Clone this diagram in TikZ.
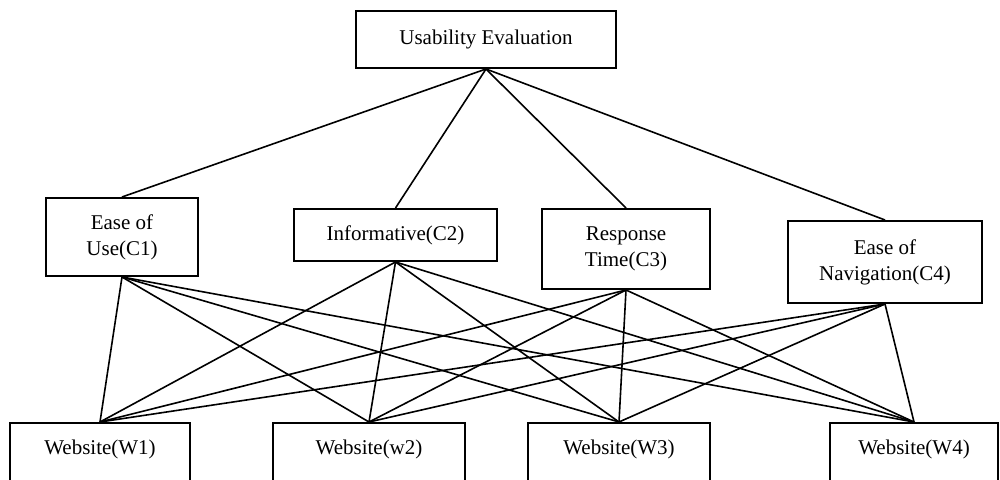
\documentclass[tikz,border=0pt]{standalone}
\usepackage{fontspec}
\setmainfont{Liberation Serif}
\begin{document}
\begin{tikzpicture}[x=0.5pt,y=-0.5pt,
    every node/.style={font=\fontsize{10.5}{13}\selectfont},
    crit/.style={draw,line width=1pt,align=center,inner sep=0pt},
    site/.style={draw,line width=1pt,anchor=north,inner xsep=0pt,
      inner ysep=5.5pt,text height=10pt,text depth=30pt},
    link/.style={line width=0.8pt}]
  \useasboundingbox (0,0) rectangle (1000,480);
  % goal and criteria
  \node[crit,minimum width=130pt,minimum height=28.5pt] (goal) at (486,39.5) {Usability Evaluation};
  \node[crit,minimum width=76pt,minimum height=39pt] (c1) at (122,237) {Ease of\\Use(C1)};
  \node[crit,minimum width=101.5pt,minimum height=26pt] (c2) at (395.5,235) {Informative(C2)};
  \node[crit,minimum width=84pt,minimum height=40pt] (c3) at (626,249) {Response\\Time(C3)};
  \node[crit,minimum width=97pt,minimum height=41pt] (c4) at (885,262) {Ease of\\Navigation(C4)};
  % alternatives
  \node[site,minimum width=90pt] (w1) at (100,422) {Website(W1)};
  \node[site,minimum width=96pt] (w2) at (369,422) {Website(w2)};
  \node[site,minimum width=91pt] (w3) at (619,422) {Website(W3)};
  \node[site,minimum width=84pt] (w4) at (914,422) {Website(W4)};
  \foreach \c in {c1,c2,c3,c4}
    \draw[link] (goal.south) -- (\c.north);
  \foreach \c in {c1,c2,c3,c4}
    \foreach \w in {w1,w2,w3,w4}
      \draw[link] (\c.south) -- (\w.north);
\end{tikzpicture}
\end{document}
